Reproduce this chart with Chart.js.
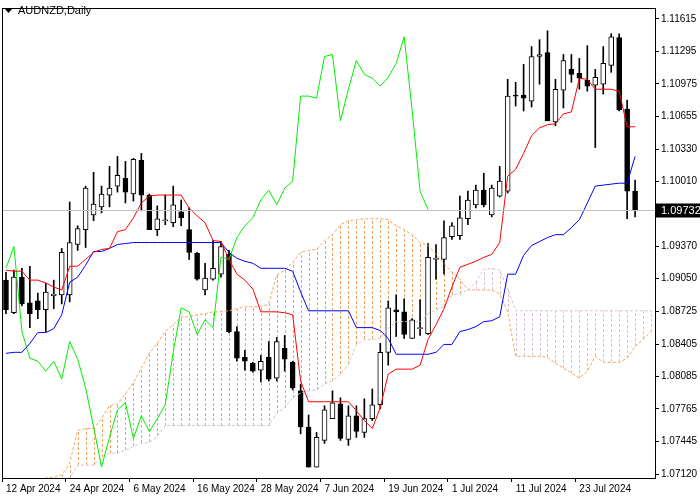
<!DOCTYPE html>
<html>
<head>
<meta charset="utf-8">
<script src="https://cdn.jsdelivr.net/npm/chart.js@4/dist/chart.umd.min.js"></script>
<style>
  html, body { margin: 0; padding: 0; background: #fff; }
  #wrap { width: 700px; height: 500px; }
</style>
</head>
<body>
<div id="wrap"><canvas id="chart" width="700" height="500"></canvas></div>
<script>
// AUDNZD daily candles, 12 Apr 2024 .. 2 Aug 2024
const dateLabels = {0: '12 Apr 2024', 8: '24 Apr 2024', 16: '6 May 2024', 24: '16 May 2024', 32: '28 May 2024',
  40: '7 Jun 2024', 48: '19 Jun 2024', 56: '1 Jul 2024', 64: '11 Jul 2024', 72: '23 Jul 2024'};
const priceTicks = [1.11615, 1.11295, 1.10975, 1.10655, 1.10330, 1.10010, 1.09690, 1.09370,
  1.09050, 1.08725, 1.08405, 1.08085, 1.07765, 1.07445, 1.07120];
const lastPrice = 1.09732;

const opens = [1.09036,1.08714,1.09065,1.08811,1.08831,1.08743,1.08880,1.08890,1.08890,1.09388,
  1.09534,1.09681,1.09759,1.09876,1.09964,1.10042,1.09886,1.10218,1.09876,1.09534,
  1.09622,1.09603,1.09710,1.09534,1.09300,1.08938,1.09046,1.09095,1.09290,1.08528,
  1.08274,1.08216,1.08147,1.08274,1.08069,1.08362,1.08225,1.07942,1.07586,1.07190,
  1.07453,1.07668,1.07815,1.07463,1.07697,1.07532,1.07668,1.07805,1.08323,1.08743,
  1.08723,1.08460,1.08557,1.08508,1.09241,1.09241,1.09466,1.09476,1.09642,1.09779,
  1.09925,1.09681,1.09866,1.09915,1.10863,1.10863,1.10804,1.11244,1.11283,1.10599,
  1.10912,1.11117,1.11078,1.11010,1.10961,1.10970,1.11156,1.11430,1.10726,1.09915];
const highs = [1.09114,1.09134,1.09153,1.09173,1.08909,1.09007,1.09036,1.09349,1.09808,1.09573,
  1.09964,1.10101,1.09964,1.10159,1.10257,1.10208,1.10238,1.10287,1.09886,1.09769,
  1.09876,1.09964,1.09827,1.09749,1.09310,1.09202,1.09427,1.09417,1.09329,1.08577,
  1.08343,1.08225,1.08294,1.08430,1.08469,1.08489,1.08235,1.08010,1.07704,1.07532,
  1.07795,1.07942,1.07874,1.07795,1.07795,1.07864,1.07961,1.08411,1.08831,1.08890,
  1.08851,1.08655,1.08841,1.09397,1.09388,1.09622,1.09603,1.09866,1.09915,1.09974,
  1.10091,1.09974,1.10159,1.11019,1.10990,1.11166,1.11342,1.11410,1.11498,1.11019,
  1.11264,1.11264,1.11225,1.11351,1.11117,1.11342,1.11469,1.11469,1.10814,1.10023];
const lows = [1.08704,1.08704,1.08782,1.08567,1.08655,1.08528,1.08753,1.08801,1.08821,1.09329,
  1.09358,1.09622,1.09700,1.09759,1.09905,1.09798,1.09817,1.09720,1.09534,1.09476,
  1.09583,1.09564,1.09573,1.09241,1.09036,1.08890,1.09036,1.09065,1.08518,1.08235,
  1.08147,1.08128,1.08030,1.08040,1.08040,1.08137,1.07952,1.07518,1.07190,1.07190,
  1.07424,1.07668,1.07453,1.07404,1.07483,1.07483,1.07649,1.07766,1.08196,1.08479,
  1.08460,1.08460,1.08489,1.08499,1.09046,1.09095,1.09437,1.09437,1.09583,1.09749,
  1.09759,1.09661,1.09856,1.09896,1.10755,1.10706,1.10746,1.10970,1.10609,1.10560,
  1.10736,1.10990,1.10921,1.10902,1.10345,1.10873,1.11088,1.10706,1.09642,1.09661];
const closes = [1.08743,1.09065,1.08801,1.08704,1.08743,1.08919,1.08899,1.09310,1.09407,1.09544,
  1.09944,1.09788,1.09886,1.09944,1.10071,1.09905,1.10228,1.09876,1.09534,1.09642,
  1.09632,1.09779,1.09651,1.09310,1.09046,1.09055,1.09153,1.09368,1.08528,1.08265,
  1.08235,1.08137,1.08235,1.08059,1.08430,1.08255,1.07971,1.07586,1.07190,1.07483,
  1.07756,1.07825,1.07473,1.07697,1.07541,1.07668,1.07805,1.08323,1.08762,1.08723,
  1.08499,1.08645,1.08567,1.09261,1.09241,1.09456,1.09573,1.09651,1.09827,1.09925,
  1.09779,1.09944,1.10013,1.10853,1.10853,1.10833,1.11244,1.11264,1.10609,1.10921,
  1.11205,1.11068,1.11029,1.10951,1.11039,1.11176,1.11439,1.10716,1.09915,1.09732];

// Ichimoku lines
const tenkan = [1.09134,1.09124,1.09124,1.09036,1.09036,1.09007,1.08968,1.08938,1.09173,1.09173,
  1.09241,1.09310,1.09339,1.09349,1.09515,1.09534,1.09651,1.09798,1.09866,1.09876,
  1.09876,1.09876,1.09876,1.09749,1.09671,1.09603,1.09427,1.09417,1.09241,1.09095,
  1.09036,1.08948,1.08723,1.08723,1.08723,1.08714,1.08694,1.08040,1.07835,1.07835,
  1.07835,1.07835,1.07835,1.07835,1.07746,1.07649,1.07571,1.07776,1.08108,1.08157,
  1.08157,1.08157,1.08196,1.08450,1.08596,1.08753,1.08968,1.09163,1.09192,1.09222,
  1.09261,1.09290,1.09407,1.10062,1.10130,1.10287,1.10462,1.10540,1.10570,1.10580,
  1.10677,1.10697,1.11029,1.11019,1.10921,1.10921,1.10921,1.10902,1.10550,1.10550];
const kijun = [1.08313,1.08323,1.08323,1.08411,1.08518,1.08518,1.08557,1.08694,1.09016,1.09065,
  1.09183,1.09319,1.09319,1.09349,1.09388,1.09397,1.09407,1.09407,1.09407,1.09407,
  1.09407,1.09407,1.09407,1.09407,1.09407,1.09407,1.09407,1.09407,1.09310,1.09251,
  1.09222,1.09202,1.09153,1.09153,1.09153,1.09153,1.09124,1.08919,1.08733,1.08733,
  1.08733,1.08733,1.08733,1.08733,1.08567,1.08567,1.08567,1.08538,1.08460,1.08304,
  1.08304,1.08304,1.08304,1.08304,1.08323,1.08401,1.08401,1.08528,1.08547,1.08577,
  1.08626,1.08635,1.08674,1.09095,1.09095,1.09280,1.09378,1.09417,1.09456,1.09485,
  1.09485,1.09554,1.09632,1.09798,1.09964,1.09974,1.09984,1.09993,1.09993,1.10257];
const senkouA = [1.06867,1.06886,1.06916,1.06965,1.07023,1.07082,1.07092,1.07112,1.07229,1.07551,
  1.07571,1.07571,1.07668,1.07795,1.07815,1.07913,1.08020,1.08167,1.08313,1.08411,
  1.08528,1.08596,1.08674,1.08674,1.08694,1.08704,1.08723,1.08723,1.08733,1.08753,
  1.08772,1.08772,1.08772,1.08801,1.09085,1.09134,1.09212,1.09310,1.09329,1.09339,
  1.09427,1.09485,1.09583,1.09622,1.09632,1.09642,1.09642,1.09642,1.09632,1.09573,
  1.09534,1.09485,1.09407,1.09378,1.09290,1.09202,1.09114,1.09046,1.08938,1.08938,
  1.08938,1.08938,1.08899,1.08723,1.08284,1.08284,1.08284,1.08284,1.08274,1.08216,
  1.08167,1.08118,1.08069,1.08137,1.08284,1.08225,1.08225,1.08225,1.08265,1.08382,
  1.08450,1.08528];
const senkouB = [1.06769,1.06789,1.06818,1.06867,1.06916,1.06965,1.07004,1.07043,1.07082,1.07209,
  1.07209,1.07209,1.07288,1.07327,1.07327,1.07356,1.07395,1.07424,1.07434,1.07492,
  1.07600,1.07600,1.07600,1.07600,1.07600,1.07600,1.07600,1.07600,1.07600,1.07600,
  1.07600,1.07600,1.07600,1.07600,1.07727,1.07776,1.07874,1.07922,1.07942,1.07952,
  1.08010,1.08040,1.08108,1.08206,1.08401,1.08450,1.08450,1.08460,1.08557,1.08626,
  1.08626,1.08626,1.08626,1.08704,1.08743,1.08772,1.08890,1.08899,1.08938,1.09016,
  1.09143,1.09153,1.09134,1.08948,1.08733,1.08733,1.08733,1.08733,1.08733,1.08733,
  1.08733,1.08733,1.08733,1.08733,1.08733,1.08733,1.08733,1.08733,1.08733,1.08733,
  1.08733,1.08733];

// chikou span = closes moved back 26 bars
const chikouShift = 26;
const chikou = closes.slice(chikouShift);

const labels = senkouA.map((_, i) => i);

const FONT = 'Liberation Sans';
const UP = '#f4a460';
const DOWN = '#d8bfd8';

// dashed vertical hatching between the two senkou spans, one per bar
const cloudPlugin = {
  id: 'cloudHatch',
  beforeDatasetsDraw: (chart) => {
    const { ctx, chartArea: a, scales } = chart;
    ctx.save();
    ctx.beginPath();
    ctx.rect(a.left, a.top, a.right - a.left, a.bottom - a.top);
    ctx.clip();
    senkouA.forEach((sa, i) => {
      const x = Math.round(scales.x.getPixelForValue(i));
      const ya = Math.round(scales.y.getPixelForValue(sa));
      const yb = Math.round(scales.y.getPixelForValue(senkouB[i]));
      ctx.fillStyle = sa >= senkouB[i] ? UP : DOWN;
      for (let y = Math.max(ya, yb); y > Math.min(ya, yb); y -= 5) {
        const h = Math.min(3, y - Math.min(ya, yb));
        ctx.fillRect(x, y - h, 1, h);
      }
    });
    ctx.restore();
  }
};

const framePlugin = {
  id: 'frame',
  afterDraw: (chart) => {
    const { ctx, chartArea: a, scales } = chart;
    ctx.save();
    // current price line
    const py = Math.round(scales.y.getPixelForValue(lastPrice)) + 0.5;
    ctx.strokeStyle = '#c0c0c0';
    ctx.lineWidth = 1;
    ctx.beginPath();
    ctx.moveTo(a.left, py);
    ctx.lineTo(a.right, py);
    ctx.stroke();
    // frame
    ctx.strokeStyle = '#000';
    ctx.strokeRect(a.left + 0.5, a.top + 0.5, a.right - a.left, a.bottom - a.top);
    // price label box
    ctx.fillStyle = '#000';
    ctx.fillRect(a.right + 1, py - 7, 45, 14);
    ctx.fillStyle = '#fff';
    ctx.font = '11px ' + FONT;
    ctx.textBaseline = 'middle';
    ctx.fillText(lastPrice.toFixed(5), a.right + 6, py);
    // title
    ctx.fillStyle = '#000';
    ctx.beginPath();
    ctx.moveTo(5, 9); ctx.lineTo(12, 9); ctx.lineTo(8.5, 13);
    ctx.closePath();
    ctx.fill();
    ctx.font = '11px ' + FONT;
    ctx.fillText('AUDNZD,Daily', 18, 11);
    ctx.restore();
  }
};

const pad = (arr) => labels.map((_, i) => (i < arr.length ? arr[i] : null));

new Chart(document.getElementById('chart'), {
  type: 'bar',
  data: {
    labels: labels,
    datasets: [
      {
        label: 'Tenkan', type: 'line', data: pad(tenkan), borderColor: '#ff0000',
        borderWidth: 1, pointRadius: 0, tension: 0, order: 0
      },
      {
        label: 'Kijun', type: 'line', data: pad(kijun), borderColor: '#0000ff',
        borderWidth: 1, pointRadius: 0, tension: 0, order: 0
      },
      {
        label: 'Chikou', type: 'line', data: pad(chikou), borderColor: '#00ee00',
        borderWidth: 1, pointRadius: 0, tension: 0, order: 0
      },
      {
        label: 'Senkou A', type: 'line', data: senkouA, borderColor: UP,
        borderWidth: 1, borderDash: [3, 2], pointRadius: 0, tension: 0, order: 1
      },
      {
        label: 'Senkou B', type: 'line', data: senkouB, borderColor: DOWN,
        borderWidth: 1, borderDash: [3, 2], pointRadius: 0, tension: 0, order: 1
      },
      {
        label: 'Body', data: pad(opens.map((o, i) => [o, closes[i]])),
        backgroundColor: opens.map((o, i) => (closes[i] >= o ? '#ffffff' : '#000000')),
        borderColor: '#000', borderWidth: 1, borderSkipped: false, minBarLength: 1,
        barThickness: 5, grouped: false, order: 3
      },
      {
        label: 'Wick', data: pad(lows.map((l, i) => [l, highs[i]])),
        backgroundColor: '#000', barThickness: 1, grouped: false, order: 4
      }
    ]
  },
  options: {
    responsive: false,
    animation: false,
    layout: { padding: { left: 2, top: 3, right: 0, bottom: 0 } },
    plugins: { legend: { display: false }, tooltip: { enabled: false } },
    scales: {
      x: {
        offset: true,
        afterFit: (axis) => { axis.height = 22; },
        grid: {
          drawOnChartArea: false, tickLength: 4,
          color: (c) => (dateLabels[c.index] !== undefined ? '#000' : 'rgba(0,0,0,0)')
        },
        border: { display: false },
        ticks: {
          autoSkip: false, maxRotation: 0, align: 'start', padding: 1,
          color: '#000', font: { family: FONT, size: 10 },
          callback: (v, i) => dateLabels[i] || ''
        }
      },
      y: {
        position: 'right',
        min: 1.07082,
        max: 1.11723,
        afterFit: (axis) => { axis.width = 45; },
        afterBuildTicks: (axis) => { axis.ticks = priceTicks.map(v => ({ value: v })); },
        grid: { drawOnChartArea: false, tickLength: 4, color: '#000' },
        border: { display: false },
        ticks: {
          padding: 2, color: '#000', font: { family: FONT, size: 10 },
          callback: (v) => v.toFixed(5)
        }
      }
    }
  },
  plugins: [cloudPlugin, framePlugin]
});
</script>
</body>
</html>
